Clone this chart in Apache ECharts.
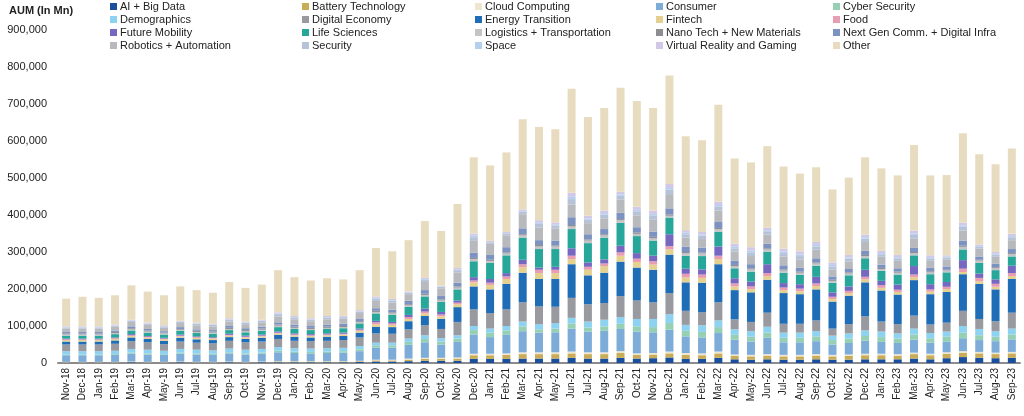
<!DOCTYPE html>
<html>
<head>
<meta charset="utf-8">
<script src="https://cdn.jsdelivr.net/npm/echarts@6/dist/echarts.min.js"></script>
<style>
html,body{margin:0;padding:0;background:#fff;}
#c{width:1024px;height:416px;}
</style>
</head>
<body>
<div id="c"></div>
<script>
const months = ['Nov-18','Dec-18','Jan-19','Feb-19','Mar-19','Apr-19','May-19','Jun-19','Jul-19','Aug-19','Sep-19','Oct-19','Nov-19','Dec-19',
'Jan-20','Feb-20','Mar-20','Apr-20','May-20','Jun-20','Jul-20','Aug-20','Sep-20','Oct-20','Nov-20','Dec-20',
'Jan-21','Feb-21','Mar-21','Apr-21','May-21','Jun-21','Jul-21','Aug-21','Sep-21','Oct-21','Nov-21','Dec-21',
'Jan-22','Feb-22','Mar-22','Apr-22','May-22','Jun-22','Jul-22','Aug-22','Sep-22','Oct-22','Nov-22','Dec-22',
'Jan-23','Feb-23','Mar-23','Apr-23','May-23','Jun-23','Jul-23','Aug-23','Sep-23'];

const yTicks = [0,100000,200000,300000,400000,500000,600000,700000,800000,900000];

const aiBigData = [1000,1000,1000,1000,2000,1000,1000,2000,1000,1000,2000,1000,2000,2000,
2000,2000,2000,2000,3000,4000,4000,5000,6000,6000,6000,11000,
11000,11000,12000,12000,12000,14000,12000,12000,14000,12000,13000,15000,
11000,11000,14000,10000,9000,10000,9000,9000,10000,9000,9000,10000,
10000,10000,12000,10000,13000,16000,14000,13000,14000];
const batteryTech = [1000,1000,1000,1000,1000,1000,1000,1000,1000,1000,1000,1000,1000,2000,
2000,2000,2000,2000,2000,3000,3000,4000,5000,5000,6000,10000,
10000,11000,12000,12000,12000,12000,12000,12000,13000,10000,10000,11000,
11000,10000,12000,9000,9000,10000,9000,9000,10000,9000,10000,11000,
11000,10000,12000,11000,12000,11000,12000,11000,12000];
const cloudComputing = [1000,1000,1000,1000,1000,1000,1000,1000,1000,1000,1000,1000,1000,1000,
1000,1000,1000,1000,1000,2000,2000,3000,3000,3000,3000,4000,
4000,4000,5000,5000,5000,5000,5000,5000,5000,4000,4000,5000,
5000,5000,5000,4000,4000,4000,4000,4000,4000,4000,4000,4000,
4000,4000,4000,4000,4000,5000,4000,4000,4000];
const consumer = [18000,18000,18000,19000,21000,20000,19000,21000,20000,19000,22000,20000,21000,24000,
22000,21000,22000,23000,26000,33000,33000,37000,42000,36000,42000,52000,
45000,50000,57000,53000,54000,62000,56000,58000,60000,59000,56000,59000,
45000,43000,50000,40000,36000,44000,34000,34000,35000,28000,31000,35000,
32000,30000,35000,30000,29000,35000,32000,31000,34000];
const cyberSecurity = [2000,2000,2000,2000,3000,3000,2000,3000,3000,3000,3000,3000,3000,4000,
4000,4000,4000,4000,5000,6000,6000,8000,9000,8000,9000,12000,
12000,12000,13000,9000,10000,14000,11000,12000,14000,14000,14000,18000,
15000,15000,16000,13000,13000,14000,12000,12000,13000,12000,12000,13000,
13000,12000,14000,12000,13000,15000,13000,12000,13000];
const demographics = [9000,9000,9000,9000,10000,10000,9000,10000,10000,9000,10000,10000,10000,10000,
9000,9000,9000,9000,9000,7000,7000,9000,10000,9000,9000,11000,
11000,12000,13000,14000,15000,15000,16000,18000,18000,20000,22000,24000,
16000,18000,18000,15000,15000,16000,14000,14000,14000,12000,14000,15000,
15000,14000,16000,14000,14000,18000,17000,15000,16000];
const digitalEconomy = [18000,18000,18000,19000,21000,20000,18000,20000,19000,19000,21000,20000,20000,22000,
20000,20000,20000,21000,23000,25000,24000,25000,27000,25000,36000,45000,
42000,45000,52000,48000,44000,54000,47000,45000,57000,50000,45000,57000,
38000,35000,49000,27000,25000,38000,24000,24000,29000,19000,25000,38000,
27000,25000,35000,23000,24000,41000,27000,27000,43000];
const energyTransition = [8000,8000,8000,9000,10000,9000,9000,10000,9000,9000,10000,9000,10000,11000,
11000,10000,11000,11000,13000,18000,18000,22000,25000,27000,40000,62000,
64000,69000,80000,74000,75000,91000,78000,82000,93000,89000,88000,104000,
77000,80000,103000,79000,80000,89000,83000,80000,84000,73000,77000,92000,
84000,80000,96000,82000,83000,99000,95000,86000,91000];
const fintech = [4000,4000,4000,4000,4000,4000,4000,4000,4000,4000,4000,4000,4000,4000,
4000,4000,4000,4000,5000,7000,6000,6000,7000,7000,8000,11000,
12000,13000,15000,16000,16000,14000,15000,18000,16000,15000,14000,14000,
13000,13000,14000,10000,9000,10000,8000,8000,9000,7000,7000,8000,
7000,7000,8000,7000,8000,6000,7000,7000,8000];
const food = [2000,2000,2000,2000,2000,2000,2000,2000,2000,2000,2000,2000,2000,2000,
2000,2000,2000,2000,3000,5000,4000,5000,5000,5000,4000,5000,
6000,7000,8000,9000,9000,9000,8000,7000,9000,9000,9000,9000,
10000,9000,9000,8000,7000,8000,7000,7000,7000,6000,6000,7000,
7000,6000,7000,6000,6000,9000,9000,8000,8000];
const futureMobility = [2000,2000,2000,2000,3000,2000,2000,3000,2000,2000,3000,3000,3000,3000,
3000,3000,3000,3000,3000,4000,4000,6000,8000,7000,6000,9000,
10000,9000,12000,6000,8000,20000,12000,11000,18000,15000,15000,32000,
14000,14000,25000,14000,13000,24000,12000,12000,18000,12000,12000,19000,
12000,14000,23000,14000,13000,23000,12000,12000,20000];
const lifeSciences = [8000,8000,8000,9000,10000,9000,9000,10000,9000,9000,10000,9000,10000,12000,
12000,11000,12000,12000,14000,20000,19000,22000,33000,27000,30000,43000,
44000,48000,60000,50000,48000,52000,52000,59000,62000,46000,41000,45000,
35000,36000,40000,27000,27000,34000,28000,25000,30000,26000,30000,31000,
27000,27000,29000,27000,26000,29000,29000,25000,25000];
const logistics = [3000,3000,3000,3000,3000,3000,3000,3000,3000,3000,3000,3000,3000,4000,
3000,3000,3000,3000,3000,4000,4000,4000,4000,4000,5000,6000,
5000,5000,6000,7000,7000,7000,7000,6000,7000,6000,6000,5000,
7000,7000,7000,6000,6000,6000,6000,6000,6000,5000,5000,6000,
5000,5000,6000,5000,5000,7000,6000,5000,6000];
const nanoTech = [3000,3000,3000,3000,3000,3000,2000,2000,3000,3000,3000,3000,3000,3000,
3000,3000,3000,3000,3000,3000,3000,3000,3000,3000,3000,3000,
3000,3000,3000,4000,3000,4000,3000,3000,3000,4000,4000,3000,
3000,3000,3000,3000,3000,3000,3000,3000,3000,3000,3000,3000,
3000,3000,3000,3000,2000,3000,2000,3000,3000];
const nextGenComm = [4000,4000,4000,4000,5000,4000,4000,5000,4000,4000,5000,5000,5000,6000,
6000,5000,6000,6000,6000,7000,7000,9000,10000,9000,10000,14000,
13000,14000,16000,13000,13000,21000,14000,14000,17000,14000,14000,17000,
14000,13000,16000,12000,11000,12000,11000,10000,11000,9000,9000,11000,
9000,9000,11000,9000,9000,14000,9000,9000,11000];
const robotics = [9000,9000,9000,10000,12000,11000,10000,11000,11000,10000,12000,11000,12000,16000,
14000,13000,14000,14000,16000,20000,19000,18000,22000,21000,28000,32000,
30000,32000,38000,34000,33000,34000,30000,29000,36000,32000,32000,36000,
25000,23000,31000,24000,22000,25000,24000,22000,23000,19000,20000,24000,
21000,20000,25000,19000,18000,27000,21000,19000,24000];
const security = [3000,3000,3000,3000,3000,3000,3000,3000,4000,4000,5000,4000,4000,6000,
5000,4000,5000,4000,4000,6000,5000,4000,6000,4000,6000,10000,
4000,5000,7000,10000,8000,15000,10000,10000,10000,11000,12000,15000,
9000,9000,11000,9000,10000,9000,9000,10000,9000,8000,8000,9000,
7000,7000,10000,7000,6000,10000,5000,6000,8000];
const space = [1000,1000,1000,1000,1000,1000,1000,1000,1000,1000,1000,1000,1000,2000,
1000,1000,1000,1000,1000,2000,2000,1000,2000,1000,2000,4000,
1000,1000,2000,3000,3000,6000,3000,4000,4000,4000,4000,4000,
4000,3000,4000,4000,5000,3000,4000,4000,4000,4000,3000,4000,
3000,3000,4000,3000,2000,4000,2000,2000,3000];
const vrGaming = [2000,2000,2000,2000,2000,2000,2000,2000,2000,2000,3000,2000,2000,3000,
3000,3000,3000,2000,3000,4000,3000,2000,3000,2000,4000,6000,
3000,3000,4000,7000,5000,11000,7000,7000,7000,8000,9000,11000,
7000,7000,9000,8000,9000,7000,8000,9000,8000,7000,7000,7000,
6000,6000,8000,5000,4000,7000,4000,5000,6000];
const other = [75000,80000,77000,79000,93000,84000,81000,93000,88000,84000,98000,91000,95000,114000,
105000,102000,102000,99000,108000,131000,129000,139000,154000,148000,173000,206000,
204000,215000,244000,252000,252000,281000,267000,277000,281000,286000,277000,293000,
254000,248000,262000,231000,229000,220000,222000,210000,202000,197000,209000,209000,
223000,215000,231000,216000,217000,242000,244000,237000,231000];

const seriesDefs = [
  ['AI + Big Data', aiBigData, '#1b4f9e'],
  ['Battery Technology', batteryTech, '#c9ac58'],
  ['Cloud Computing', cloudComputing, '#efe6cf'],
  ['Consumer', consumer, '#7eacd9'],
  ['Cyber Security', cyberSecurity, '#96cfb3'],
  ['Demographics', demographics, '#8dd2f0'],
  ['Digital Economy', digitalEconomy, '#989aa0'],
  ['Energy Transition', energyTransition, '#1f6db6'],
  ['Fintech', fintech, '#e4d08f'],
  ['Food', food, '#e89db2'],
  ['Future Mobility', futureMobility, '#7668c0'],
  ['Life Sciences', lifeSciences, '#27a79a'],
  ['Logistics + Transportation', logistics, '#c4c4c6'],
  ['Nano Tech + New Materials', nanoTech, '#8d8e92'],
  ['Next Gen Comm. + Digital Infra', nextGenComm, '#7c92c0'],
  ['Robotics + Automation', robotics, '#b8b9bd'],
  ['Security', security, '#b6c2d6'],
  ['Space', space, '#b4d0ef'],
  ['Virtual Reality and Gaming', vrGaming, '#d0c8e6'],
  ['Other', other, '#e8dcc0']
];

const FONT = 'Liberation Sans, Arial, sans-serif';
const legendCols = [
  ['AI + Big Data','Demographics','Future Mobility','Robotics + Automation'],
  ['Battery Technology','Digital Economy','Life Sciences','Security'],
  ['Cloud Computing','Energy Transition','Logistics + Transportation','Space'],
  ['Consumer','Fintech','Nano Tech + New Materials','Virtual Reality and Gaming'],
  ['Cyber Security','Food','Next Gen Comm. + Digital Infra','Other']
];
const legendX = [110, 302, 475, 656, 833];

const chart = echarts.init(document.getElementById('c'), null, {renderer:'canvas'});
chart.setOption({
  animation: false,
  backgroundColor: '#fff',
  title: {
    text: 'AUM (In Mn)', left: 4, top: 0,
    textStyle: {fontFamily: FONT, fontSize: 11, fontWeight: 'bold', color: '#222'}
  },
  legend: legendCols.map((names, i) => ({
    orient: 'vertical', left: legendX[i], top: 0,
    itemWidth: 7, itemHeight: 7, itemGap: 0, icon: 'rect',
    selectedMode: false, padding: 0,
    textStyle: {fontFamily: FONT, fontSize: 11, color: '#222', lineHeight: 13, padding: [0,0,0,-2]},
    data: names
  })),
  grid: {left: 58, right: 4, top: 30, bottom: 53},
  xAxis: {
    type: 'category', data: months,
    axisLine: {lineStyle: {color: '#8c8c8c', width: 2}},
    axisTick: {show: false},
    axisLabel: {rotate: 90, fontFamily: FONT, fontSize: 10, color: '#222', margin: 5, interval: 0}
  },
  yAxis: {
    type: 'value', min: 0, max: 900000, interval: 100000,
    splitLine: {show: false},
    axisLine: {show: false}, axisTick: {show: false},
    axisLabel: {
      fontFamily: FONT, fontSize: 11, color: '#222', margin: 11,
      formatter: v => yTicks.includes(v) ? v.toLocaleString('en-US') : ''
    }
  },
  series: seriesDefs.map(([name, data, color]) => ({
    name, type: 'bar', stack: 'aum', data, barWidth: 8,
    itemStyle: {color}
  }))
});
</script>
</body>
</html>
